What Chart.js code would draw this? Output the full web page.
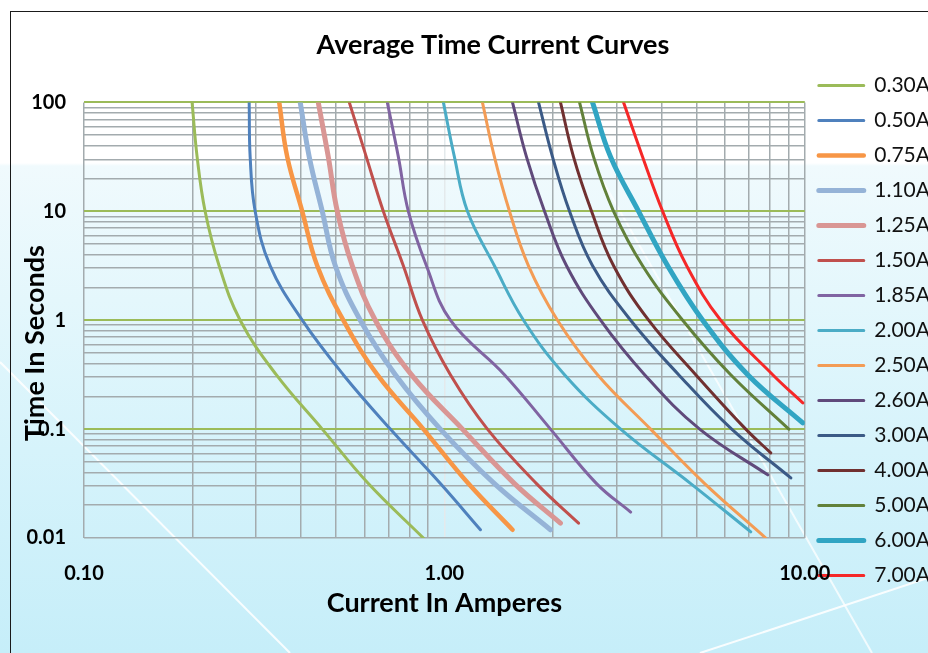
<!DOCTYPE html>
<html>
<head>
<meta charset="utf-8">
<script src="https://cdn.jsdelivr.net/npm/chart.js@4.4.1/dist/chart.umd.min.js"></script>
<style>
  html, body { margin: 0; padding: 0; width: 928px; height: 653px; overflow: hidden; }
  body {
    position: relative;
    background: linear-gradient(180deg, #ffffff 0px, #ffffff 163px, #f0fafd 166px, #e4f7fc 300px, #d6f3fb 450px, #c6eef9 653px);
  }
  #deco { position: absolute; left: 0; top: 0; }
  #frame { position: absolute; left: 10px; top: 11px; width: 1000px; height: 700px;
           border-left: 1.5px solid #1a1a1a; border-top: 1.5px solid #1a1a1a; }
  #chart { position: absolute; left: 0; top: 0; }
</style>
</head>
<body>
<svg id="deco" width="928" height="653">
  <line x1="0" y1="362" x2="290" y2="653" stroke="#ffffff" stroke-width="2" opacity="0.9"/>
  <line x1="585" y1="150" x2="872" y2="653" stroke="#ffffff" stroke-width="2" opacity="0.75"/>
  <line x1="700" y1="653" x2="928" y2="578" stroke="#ffffff" stroke-width="2" opacity="0.9"/>
</svg>
<div id="frame"></div>
<canvas id="chart" width="940" height="653"></canvas>
<script>
// fuse ratings (legend)
var ratings = ['0.30A', '0.50A', '0.75A', '1.10A', '1.25A', '1.50A', '1.85A', '2.00A',
               '2.50A', '2.60A', '3.00A', '4.00A', '5.00A', '6.00A', '7.00A'];

// [current in amperes, time in seconds]
var curve030 = [[0.1995, 100], [0.206, 31.6], [0.2168, 10], [0.2371, 3.16], [0.2712, 1.0],
                [0.3415, 0.316], [0.4583, 0.1], [0.6151, 0.0316], [0.8744, 0.01]];
var curve050 = [[0.2873, 100], [0.2891, 31.6], [0.2985, 10], [0.3286, 3.16], [0.4032, 1.0],
                [0.5241, 0.316], [0.7079, 0.1], [0.9747, 0.0316], [1.2589, 0.0119]];
var curve075 = [[0.3481, 100], [0.3664, 31.6], [0.4032, 10], [0.4438, 3.16], [0.5241, 1.0],
                [0.6515, 0.316], [0.8744, 0.1], [1.1659, 0.0316], [1.5451, 0.0119]];
var curve110 = [[0.3981, 100], [0.4217, 31.6], [0.4583, 10], [0.4981, 3.16], [0.5843, 1.0],
                [0.7311, 0.316], [0.9747, 0.1], [1.3767, 0.0316], [1.9696, 0.0119]];
var curve125 = [[0.4467, 100], [0.4763, 31.6], [0.5045, 10], [0.5552, 3.16], [0.6431, 1.0],
                [0.8097, 0.316], [1.122, 0.1], [1.5647, 0.0316], [2.0996, 0.0137]];
var curve150 = [[0.5447, 100], [0.6072, 31.6], [0.6769, 10], [0.7693, 3.16], [0.8689, 1.0],
                [1.0391, 0.316], [1.3166, 0.1], [1.8012, 0.0316], [2.3563, 0.0137]];
var curve185 = [[0.6944, 100], [0.7452, 31.6], [0.7943, 10], [0.8917, 3.16], [1.0391, 1.0],
                [1.4678, 0.316], [1.9696, 0.1], [2.6438, 0.0316], [3.2864, 0.0173]];
var curve200 = [[0.9936, 100], [1.0661, 31.6], [1.1587, 10], [1.3767, 3.16], [1.6581, 1.0],
                [2.1544, 0.316], [3.0832, 0.1], [4.8252, 0.0316], [7.0795, 0.0114]];
var curve250 = [[1.2752, 100], [1.3767, 31.6], [1.5157, 10], [1.7113, 3.16], [2.0598, 1.0],
                [2.6607, 0.316], [3.734, 0.1], [5.2749, 0.0316], [7.7923, 0.01]];
var curve260 = [[1.5451, 100], [1.6896, 31.6], [1.8957, 10], [2.1824, 3.16], [2.7122, 1.0],
                [3.5938, 0.316], [5.1088, 0.1], [7.8926, 0.038]];
var curve300 = [[1.8249, 100], [1.9953, 31.6], [2.2245, 10], [2.577, 3.16], [3.2864, 1.0],
                [4.4668, 0.316], [6.2696, 0.1], [9.1456, 0.0356]];
var curve400 = [[2.0996, 100], [2.282, 31.6], [2.5603, 10], [2.9478, 3.16], [3.687, 1.0],
                [4.9817, 0.316], [6.8567, 0.1], [8.0452, 0.0605]];
var curve500 = [[2.3714, 100], [2.5935, 31.6], [2.9478, 10], [3.5481, 3.16], [4.5822, 1.0],
                [6.2296, 0.316], [9.0287, 0.1]];
var curve600 = [[2.577, 100], [2.8915, 31.6], [3.4582, 10], [4.1635, 3.16], [5.2081, 1.0],
                [6.9448, 0.316], [9.8726, 0.114]];
var curve700 = [[3.142, 100], [3.5481, 31.6], [4.0325, 10], [4.7009, 3.16], [5.8443, 1.0],
                [8.147, 0.316], [9.8726, 0.174]];

var curves = [curve030, curve050, curve075, curve110, curve125, curve150, curve185, curve200,
              curve250, curve260, curve300, curve400, curve500, curve600, curve700];

// styles
var colours = ['#9bbb59', '#4f81bd', '#f79646', '#95b3d7', '#d99694', '#c0504d', '#8064a2', '#4bacc6',
               '#f39c55', '#604a7b', '#3b5a86', '#703030', '#62813a', '#31a5c3', '#f52828'];
var widths = [3, 3, 4.5, 5, 5, 3, 3, 3, 3, 3, 3, 3, 3, 5, 3];

// axis ticks: decades with 1..9 minor steps
var ampDecades = [0.1, 1, 10];
var timeDecades = [0.01, 0.1, 1, 10, 100];
var minorSteps = [1, 2, 3, 4, 5, 6, 7, 8, 9];

function tickList(decades) {
    var out = [];
    for (var i = 0; i < decades.length - 1; i++) {
        minorSteps.forEach(function (m) {
            out.push({ value: parseFloat((decades[i] * m).toPrecision(6)) });
        });
    }
    out.push({ value: decades[decades.length - 1] });
    return out;
}
function isDecade(v) {
    var l = Math.log10(v);
    return Math.abs(l - Math.round(l)) < 1e-9;
}

var GRID_GREY = '#a3abae';
var GRID_GREEN = '#9bbb59';

Chart.defaults.font.family = 'Lato';
Chart.defaults.color = '#000';

var datasets = curves.map(function (c, i) {
    return {
        label: ratings[i],
        data: c.map(function (p) { return { x: p[0], y: p[1] }; }),
        borderColor: colours[i],
        backgroundColor: colours[i],
        borderWidth: widths[i],
        pointRadius: 0,
        tension: 0.4,
        borderCapStyle: 'round',
        borderJoinStyle: 'round'
    };
});

// nudge the title so it sits centred over the whole (cropped) chart box
var titleShift = {
    id: 'titleShift',
    afterLayout: function (chart) {
        var t = chart.titleBlock;
        var dx = 493 - (t.left + t.right) / 2;
        t.left += dx;
        t.right += dx;
    }
};

new Chart(document.getElementById('chart').getContext('2d'), {
    type: 'line',
    data: { datasets: datasets },
    plugins: [titleShift],
    options: {
        responsive: false,
        animation: false,
        layout: { padding: { left: 12, top: 8, right: 0, bottom: 0 } },
        plugins: {
            title: {
                display: true,
                text: 'Average Time Current Curves',
                font: { size: 27, weight: 'bold' },
                color: '#000',
                padding: { top: 21, bottom: 41 }
            },
            legend: {
                position: 'right',
                labels: {
                    boxWidth: 45,
                    boxHeight: 0,
                    padding: 14,
                    font: { size: 21 },
                    color: '#111'
                }
            },
            tooltip: { enabled: false }
        },
        scales: {
            x: {
                type: 'logarithmic',
                min: 0.1,
                max: 10,
                afterBuildTicks: function (s) { s.ticks = tickList(ampDecades); },
                afterFit: function (s) { s.height = 115; },
                border: { display: false },
                grid: {
                    drawTicks: false,
                    lineWidth: 1.5,
                    color: function (ctx) {
                        return (ctx.tick && ctx.tick.value === 1) ? '#e4eaec' : GRID_GREY;
                    }
                },
                ticks: {
                    autoSkip: false,
                    maxRotation: 0,
                    padding: 24,
                    font: { size: 20, weight: 'bold' },
                    callback: function (v) { return isDecade(v) ? Number(v).toFixed(2) : ''; }
                },
                title: {
                    display: true,
                    text: 'Current In Amperes',
                    font: { size: 27, weight: 'bold' },
                    padding: { top: 0, bottom: 34 }
                }
            },
            y: {
                type: 'logarithmic',
                min: 0.01,
                max: 100,
                afterBuildTicks: function (s) { s.ticks = tickList(timeDecades); },
                afterFit: function (s) { s.width = 72; },
                border: { display: false },
                grid: {
                    drawTicks: false,
                    lineWidth: function (ctx) {
                        var v = ctx.tick && ctx.tick.value;
                        return (v && isDecade(v) && v > 0.011) ? 2 : 1.5;
                    },
                    color: function (ctx) {
                        var v = ctx.tick && ctx.tick.value;
                        return (v && isDecade(v) && v > 0.011) ? GRID_GREEN : GRID_GREY;
                    }
                },
                ticks: {
                    autoSkip: false,
                    padding: 18,
                    font: { size: 20, weight: 'bold' },
                    callback: function (v) { return isDecade(v) ? String(v) : ''; }
                },
                title: {
                    display: true,
                    text: 'Time In Seconds\u00a0\u00a0\u00a0\u00a0\u00a0\u00a0\u00a0',
                    font: { size: 27, weight: 'bold' },
                    padding: { top: 7, bottom: 0 }
                }
            }
        }
    }
});
</script>
</body>
</html>
